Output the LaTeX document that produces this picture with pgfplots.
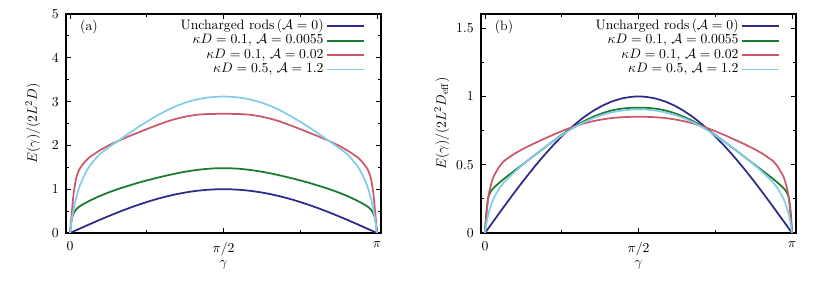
\documentclass[border=0pt,11pt]{standalone}
\usepackage{pgfplots}
\usepackage{pgfplotstable}
\pgfplotsset{compat=1.18}
\definecolor{cblue}{RGB}{46,42,140}
\definecolor{cgreen}{RGB}{26,122,46}
\definecolor{cred}{RGB}{204,88,108}
\definecolor{ccyan}{RGB}{132,204,234}
\pgfplotstableread{
g blue gA rA cA gB rB cB
0.0000 0.0000 0.000 0.000 0.000 0.000 0.000 0.000
0.0100 0.0100 0.200 0.250 0.180 0.120 0.090 0.050
0.0200 0.0200 0.330 0.500 0.330 0.195 0.170 0.090
0.0300 0.0300 0.410 0.750 0.460 0.245 0.240 0.125
0.0400 0.0400 0.460 0.950 0.575 0.275 0.290 0.155
0.0600 0.0600 0.530 1.220 0.770 0.305 0.350 0.200
0.0800 0.0799 0.575 1.370 0.935 0.323 0.400 0.240
0.1000 0.0998 0.610 1.470 1.080 0.338 0.430 0.270
0.1500 0.1494 0.675 1.620 1.330 0.370 0.490 0.330
0.2000 0.1987 0.735 1.730 1.530 0.400 0.530 0.375
0.3000 0.2955 0.840 1.880 1.790 0.455 0.580 0.445
0.4000 0.3894 0.930 2.005 1.960 0.510 0.620 0.508
0.5000 0.4794 1.010 2.110 2.115 0.565 0.655 0.566
0.6000 0.5646 1.080 2.205 2.270 0.620 0.688 0.621
0.7000 0.6442 1.148 2.295 2.420 0.674 0.720 0.673
0.8000 0.7174 1.208 2.385 2.560 0.726 0.750 0.722
0.9000 0.7833 1.265 2.470 2.690 0.773 0.777 0.767
1.0000 0.8415 1.318 2.550 2.810 0.814 0.800 0.806
1.1000 0.8912 1.366 2.615 2.910 0.849 0.818 0.839
1.2000 0.9320 1.407 2.665 2.990 0.877 0.832 0.865
1.3000 0.9636 1.440 2.700 3.050 0.898 0.842 0.884
1.4000 0.9854 1.464 2.715 3.090 0.911 0.848 0.897
1.5000 0.9975 1.478 2.720 3.110 0.917 0.851 0.904
1.5708 1.0000 1.480 2.720 3.115 0.918 0.852 0.905
1.6416 0.9975 1.478 2.720 3.110 0.917 0.851 0.904
1.7416 0.9854 1.464 2.715 3.090 0.911 0.848 0.897
1.8416 0.9636 1.440 2.700 3.050 0.898 0.842 0.884
1.9416 0.9320 1.407 2.665 2.990 0.877 0.832 0.865
2.0416 0.8912 1.366 2.615 2.910 0.849 0.818 0.839
2.1416 0.8415 1.318 2.550 2.810 0.814 0.800 0.806
2.2416 0.7833 1.265 2.470 2.690 0.773 0.777 0.767
2.3416 0.7174 1.208 2.385 2.560 0.726 0.750 0.722
2.4416 0.6442 1.148 2.295 2.420 0.674 0.720 0.673
2.5416 0.5646 1.080 2.205 2.270 0.620 0.688 0.621
2.6416 0.4794 1.010 2.110 2.115 0.565 0.655 0.566
2.7416 0.3894 0.930 2.005 1.960 0.510 0.620 0.508
2.8416 0.2955 0.840 1.880 1.790 0.455 0.580 0.445
2.9416 0.1987 0.735 1.730 1.530 0.400 0.530 0.375
2.9916 0.1494 0.675 1.620 1.330 0.370 0.490 0.330
3.0416 0.0998 0.610 1.470 1.080 0.338 0.430 0.270
3.0616 0.0799 0.575 1.370 0.935 0.323 0.400 0.240
3.0816 0.0600 0.530 1.220 0.770 0.305 0.350 0.200
3.1016 0.0400 0.460 0.950 0.575 0.275 0.290 0.155
3.1116 0.0300 0.410 0.750 0.460 0.245 0.240 0.125
3.1216 0.0200 0.330 0.500 0.330 0.195 0.170 0.090
3.1316 0.0100 0.200 0.250 0.180 0.120 0.090 0.050
3.1416 0.0000 0.000 0.000 0.000 0.000 0.000 0.000
}\datatable
\pgfplotsset{
  panel/.style={
    scale only axis, width=252pt, height=175.2pt,
    xmin=-0.0409, xmax=3.1825,
    xtick={0,1.570796,3.141593},
    xticklabels={$0$,$\pi/2$,$\pi$},
    minor xtick={0.785398,2.356194},
    tick pos=both, xticklabel pos=lower, yticklabel pos=left,
    tick align=inside,
    major tick length=4pt, minor tick length=2.4pt,
    axis line style={line width=0.9pt},
    every tick/.style={line width=0.7pt, black},
    minor y tick num=1,
    xticklabel style={inner sep=1pt, yshift=-6pt},
    yticklabel style={xshift=-2pt},
    xlabel={$\gamma$},
    xlabel style={inner sep=1pt, at={(axis description cs:0.5,-0.145)}, anchor=center},
    legend plot pos=right,
    legend cell align=right,
    legend style={draw=none, fill=none, at={(rel axis cs:0.955,0.979)}, anchor=north east,
      row sep=1.5pt, inner sep=1pt,
      nodes={inner xsep=2pt, inner ysep=0.5pt, text height=7pt, text depth=2pt}},
    every axis plot/.append style={line width=1.4pt, smooth, tension=0.3},
  }
}
\begin{document}
\begin{tikzpicture}
\begin{axis}[panel, at={(52.8pt,48pt)}, anchor=south west,
  ymin=0, ymax=5, ytick={0,1,2,3,4,5},
  ylabel={$E(\gamma)/(2L^2D)$},
  ylabel style={at={(axis description cs:-0.105,0.5)}, anchor=center},
  legend image code/.code={\draw[#1,sharp plot] (0pt,0pt) -- (30pt,0pt);},
]
\addplot[cblue, no marks] table[x=g, y=blue] {\datatable};
\addlegendentry{Uncharged rods\,($\mathcal{A}=0$)}
\addplot[cgreen, no marks] table[x=g, y=gA] {\datatable};
\addlegendentry{$\kappa D=0.1$, $\mathcal{A}=0.0055$}
\addplot[cred, no marks] table[x=g, y=rA] {\datatable};
\addlegendentry{$\kappa D=0.1$, $\mathcal{A}=0.02$}
\addplot[ccyan, no marks] table[x=g, y=cA] {\datatable};
\addlegendentry{$\kappa D=0.5$, $\mathcal{A}=1.2$}
\node at (rel axis cs:0.073,0.94) {(a)};
\end{axis}
\begin{axis}[panel, at={(384.8pt,48pt)}, anchor=south west,
  ymin=0, ymax=1.604, ytick={0,0.5,1,1.5},
  ylabel={$E(\gamma)/(2L^2D_{\mathrm{eff}})$},
  ylabel style={at={(axis description cs:-0.124,0.5)}, anchor=center},
  legend image code/.code={\draw[#1,sharp plot] (0pt,0pt) -- (30pt,0pt);},
]
\addplot[cblue, no marks] table[x=g, y=blue] {\datatable};
\addlegendentry{Uncharged rods\,($\mathcal{A}=0$)}
\addplot[cgreen, no marks] table[x=g, y=gB] {\datatable};
\addlegendentry{$\kappa D=0.1$, $\mathcal{A}=0.0055$}
\addplot[cred, no marks] table[x=g, y=rB] {\datatable};
\addlegendentry{$\kappa D=0.1$, $\mathcal{A}=0.02$}
\addplot[ccyan, no marks] table[x=g, y=cB] {\datatable};
\addlegendentry{$\kappa D=0.5$, $\mathcal{A}=1.2$}
\node at (rel axis cs:0.073,0.94) {(b)};
\end{axis}
\pgfresetboundingbox
\path[use as bounding box] (0pt,0pt) rectangle (664pt,234.4pt);
\end{tikzpicture}
\end{document}
